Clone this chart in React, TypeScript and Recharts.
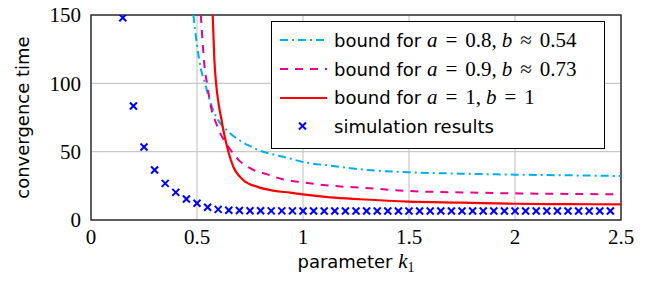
import { ComposedChart, Line, Scatter, XAxis, YAxis, CartesianGrid, ReferenceArea } from 'recharts';

// simulation results
const K_SIM = [
  0.15, 0.2, 0.25, 0.3, 0.35, 0.4, 0.45, 0.5, 0.55, 0.6, 0.65, 0.7, 0.75, 0.8, 0.85, 0.9, 0.95, 1.0,
  1.05, 1.1, 1.15, 1.2, 1.25, 1.3, 1.35, 1.4, 1.45, 1.5, 1.55, 1.6, 1.65, 1.7, 1.75, 1.8, 1.85, 1.9,
  1.95, 2.0, 2.05, 2.1, 2.15, 2.2, 2.25, 2.3, 2.35, 2.4, 2.45,
];
const T_SIM = [
  148, 83.4, 53.4, 36.6, 26.8, 20.2, 15.4, 12.2, 9.3, 7.8, 7.1, 6.9, 6.8, 6.8, 6.7, 6.7, 6.7, 6.6,
  6.6, 6.6, 6.6, 6.6, 6.6, 6.6, 6.6, 6.6, 6.6, 6.6, 6.6, 6.6, 6.6, 6.6, 6.6, 6.6, 6.6, 6.6,
  6.6, 6.6, 6.6, 6.6, 6.6, 6.6, 6.6, 6.6, 6.6, 6.6, 6.6,
];

// bound a = 0.8, b ~ 0.54
const K_CYAN = [0.483, 0.5, 0.519, 0.538, 0.555, 0.575, 0.6, 0.648, 0.711, 0.75, 0.797, 0.852, 0.915, 1.0, 1.13, 1.27, 1.5, 1.75, 2.0, 2.25, 2.5];
const T_CYAN = [150, 128, 110, 100, 90, 81, 73, 64.6, 57.3, 54.1, 50.7, 48.3, 45.9, 42.5, 39.7, 37.1, 34.9, 33.9, 33.2, 32.7, 32.2];

// bound a = 0.9, b ~ 0.73
const K_MAG = [0.518, 0.527, 0.535, 0.547, 0.57, 0.585, 0.608, 0.64, 0.664, 0.703, 0.761, 0.832, 0.904, 1.0, 1.13, 1.27, 1.5, 1.75, 2.0, 2.25, 2.5];
const T_MAG = [150, 129, 113, 100, 80, 73, 64, 55.5, 50, 42.9, 37, 33.4, 29.8, 27.5, 25.1, 23.7, 21.2, 20.2, 19.5, 19.1, 18.8];

// bound a = 1, b = 1
const K_RED = [0.574, 0.582, 0.59, 0.604, 0.616, 0.624, 0.648, 0.671, 0.718, 0.782, 0.86, 0.939, 1.0, 1.13, 1.27, 1.5, 1.75, 2.0, 2.25, 2.5];
const T_RED = [150, 117, 100, 83, 73, 66, 50, 39, 29.3, 24.4, 21.5, 20, 18.8, 16.6, 15.2, 13.4, 12.7, 11.9, 11.6, 11.5];

const X_TICKS = [0, 0.5, 1, 1.5, 2, 2.5];
const Y_TICKS = [0, 50, 100, 150];

const zip = (ks: number[], ts: number[]) => ks.map((k, i) => ({ k, t: ts[i] }));
const simData = zip(K_SIM, T_SIM);
const cyanData = zip(K_CYAN, T_CYAN);
const magData = zip(K_MAG, T_MAG);
const redData = zip(K_RED, T_RED);

const CYAN = '#00aeef';
const MAGENTA = '#ec008c';
const RED = '#ff0000';
const BLUE = '#0000ff';

const SERIF = '"Liberation Serif", serif';
const SANS = '"DejaVu Sans", sans-serif';

const Cross = (props: any) => {
  const { cx, cy } = props;
  const r = 3.5;
  return (
    <g stroke={BLUE} strokeWidth={2}>
      <line x1={cx - r} y1={cy - r} x2={cx + r} y2={cy + r} />
      <line x1={cx - r} y1={cy + r} x2={cx + r} y2={cy - r} />
    </g>
  );
};

const XLabel = (props: any) => {
  const { viewBox } = props;
  const cx = viewBox.x + viewBox.width / 2;
  return (
    <text x={cx} y={268} textAnchor="middle" fontSize={18} fill="#000">
      <tspan fontFamily={SANS}>parameter </tspan>
      <tspan fontFamily={SERIF} fontStyle="italic" fontSize={21}>k</tspan>
      <tspan fontFamily={SERIF} fontSize={14} dy={4}>1</tspan>
    </text>
  );
};

const YLabel = (props: any) => {
  const { viewBox } = props;
  const cy = viewBox.y + viewBox.height / 2;
  return (
    <text
      x={22}
      y={cy}
      transform={`rotate(-90 22 ${cy})`}
      textAnchor="middle"
      dominantBaseline="central"
      fontFamily={SANS}
      fontSize={18}
      fill="#000"
    >
      convergence time
    </text>
  );
};

const Rel = ({ s }: { s: string }) => <span style={{ margin: '0 8px' }}>{s}</span>;

const Math = ({ a, rel, b }: { a: string; rel: string; b: string }) => (
  <span style={{ fontFamily: SERIF, fontSize: 21, whiteSpace: 'pre' }}>
    <i>a</i>
    <Rel s="=" />
    {a},<span style={{ marginLeft: 5 }} />
    <i>b</i>
    <Rel s={rel} />
    {b}
  </span>
);

const legendRows = [
  { color: CYAN, dash: '8 4 2 4', a: '0.8', rel: '≈', b: '0.54' },
  { color: MAGENTA, dash: '8 7', a: '0.9', rel: '≈', b: '0.73' },
  { color: RED, dash: undefined, a: '1', rel: '=', b: '1' },
];

function ChartLegend() {
  return (
    <div
      style={{
        position: 'absolute',
        left: 271,
        top: 21,
        width: 334,
        height: 128,
        border: '1px solid #000',
        background: '#fff',
        boxSizing: 'border-box',
        paddingTop: 4,
      }}
    >
      {legendRows.map((r, i) => (
        <div key={`leg-${i}`} style={{ display: 'flex', alignItems: 'center', height: 28.7 }}>
          <svg width={62} height={20} style={{ flexShrink: 0 }}>
            <line x1={8} x2={55} y1={10} y2={10} stroke={r.color} strokeWidth={2} strokeDasharray={r.dash} />
          </svg>
          <span style={{ fontFamily: SANS, fontSize: 18, whiteSpace: 'pre' }}>bound for </span>
          <Math a={r.a} rel={r.rel} b={r.b} />
        </div>
      ))}
      <div style={{ display: 'flex', alignItems: 'center', height: 28.7 }}>
        <svg width={62} height={20} style={{ flexShrink: 0 }}>
          <Cross cx={30.5} cy={10} />
        </svg>
        <span style={{ fontFamily: SANS, fontSize: 18 }}>simulation results</span>
      </div>
    </div>
  );
}

export default function App() {
  return (
    <div style={{ position: 'absolute', left: 0, top: 0, width: 647, height: 283, background: '#fff' }}>
      <ComposedChart width={647} height={283} margin={{ top: 15, right: 26, bottom: 0, left: 0 }}>
        <CartesianGrid stroke="#c8c8c8" strokeWidth={1.2} />
        <XAxis
          dataKey="k"
          type="number"
          domain={[0, 2.5]}
          ticks={X_TICKS}
          allowDataOverflow
          height={63}
          tickLine={false}
          axisLine={false}
          tickSize={0}
          tickMargin={9}
          tick={{ fontFamily: SERIF, fontSize: 21, fill: '#000' }}
          label={<XLabel />}
        />
        <YAxis
          type="number"
          domain={[0, 150]}
          ticks={Y_TICKS}
          allowDataOverflow
          width={91}
          tickLine={false}
          axisLine={false}
          tickSize={0}
          tickMargin={10}
          tick={{ fontFamily: SERIF, fontSize: 21, fill: '#000' }}
          label={<YLabel />}
        />
        <Line data={cyanData} dataKey="t" type="monotone" stroke={CYAN} strokeWidth={2} strokeDasharray="8 4 2 4" dot={false} isAnimationActive={false} />
        <Line data={magData} dataKey="t" type="monotone" stroke={MAGENTA} strokeWidth={2} strokeDasharray="8 7" dot={false} isAnimationActive={false} />
        <Line data={redData} dataKey="t" type="monotone" stroke={RED} strokeWidth={2.2} dot={false} isAnimationActive={false} />
        <Scatter data={simData} dataKey="t" shape={<Cross />} isAnimationActive={false} />
        <ReferenceArea x1={0} x2={2.5} y1={0} y2={150} fill="none" fillOpacity={0} stroke="#333" strokeWidth={1.5} ifOverflow="visible" />
      </ComposedChart>
      <ChartLegend />
    </div>
  );
}
